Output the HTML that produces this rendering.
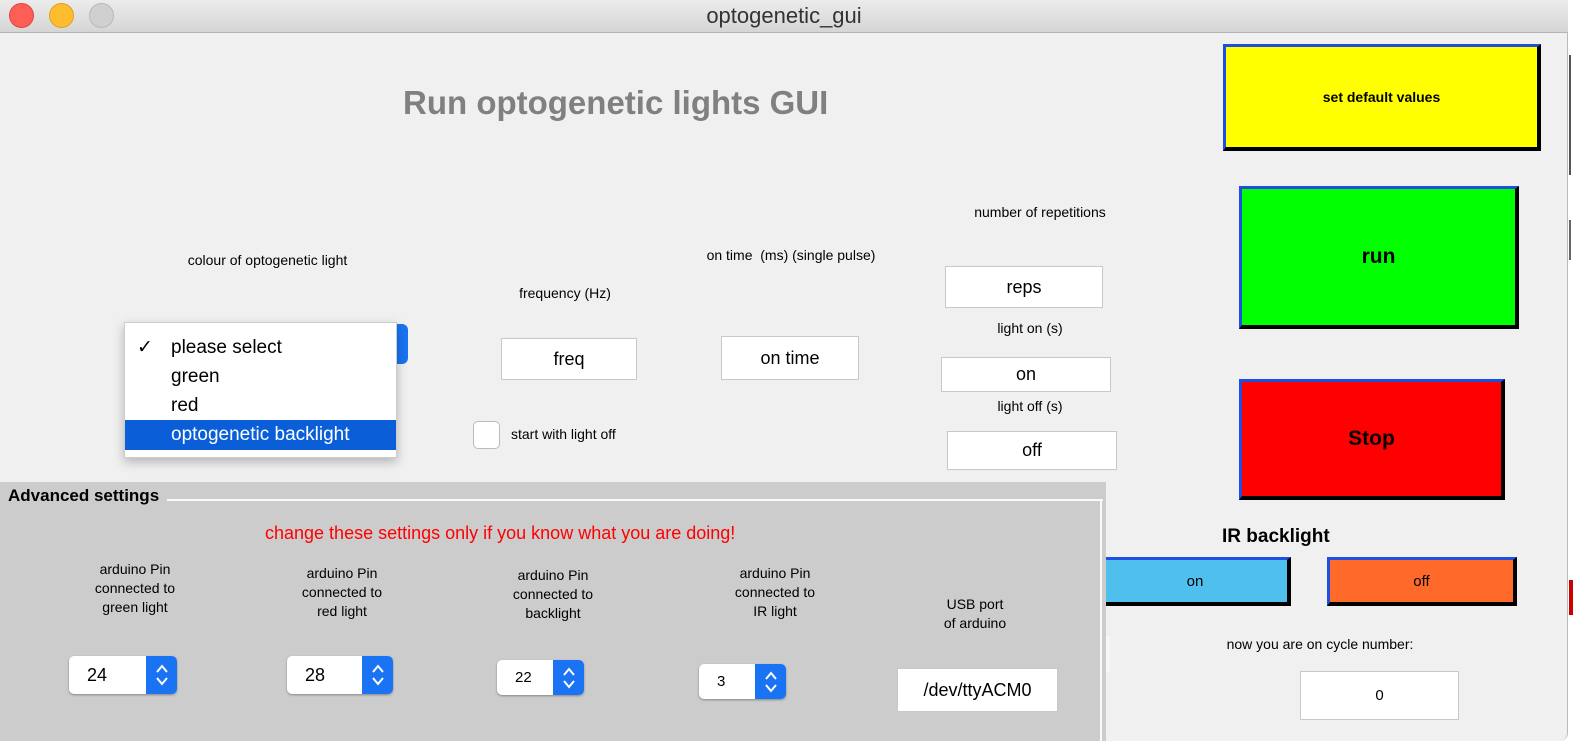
<!DOCTYPE html>
<html><head><meta charset="utf-8">
<style>
*{box-sizing:border-box}
body{margin:0;width:1582px;height:748px;background:#fff;font-family:"Liberation Sans",Arial,sans-serif;position:relative;overflow:hidden;color:#000}
.a{position:absolute}
.lbl{position:absolute;font-size:14px;text-align:center;line-height:19px}
.box{position:absolute;background:#fff;border:1px solid #c8c8c8;font-size:18px;display:flex;align-items:center;justify-content:center}
.btn{position:absolute;display:flex;align-items:center;justify-content:center;border-top:3px solid #1f4fe0;border-left:3px solid #1f4fe0;border-right:4px solid #000;border-bottom:4px solid #000}
.spin{position:absolute;background:#fff;border-radius:5px;box-shadow:0 1px 2px rgba(0,0,0,.35);font-size:18px;display:flex;align-items:center;padding-left:18px}
.spin .ar{position:absolute;right:0;top:0;bottom:0;width:31px;background:#1a73f2;border-radius:0 5px 5px 0;display:flex;align-items:center;justify-content:center}
</style></head><body>
<div class="a" style="left:0;top:0;width:1568px;height:741px;background:#f0f0f0;border-radius:0 0 8px 8px;border-right:1px solid #bbb"></div>
<div class="a" style="left:0;top:0;width:1568px;height:33px;background:linear-gradient(#ececec,#d5d5d5);border-bottom:1px solid #b5b5b5;text-align:center;font-size:22px;line-height:31px;color:#333">optogenetic_gui</div>
<div class="a" style="left:9px;top:3px;width:25px;height:25px;border-radius:50%;background:#fd5f57;border:1px solid #e0443e"></div>
<div class="a" style="left:49px;top:3px;width:25px;height:25px;border-radius:50%;background:#febc2e;border:1px solid #dea123"></div>
<div class="a" style="left:89px;top:3px;width:25px;height:25px;border-radius:50%;background:#d0d0d0;border:1px solid #b8b8b8"></div>
<div class="a" style="left:1569px;top:40px;width:13px;height:600px">
<div class="a" style="left:0;top:15px;width:2px;height:120px;background:#555"></div>
<div class="a" style="left:0;top:180px;width:2px;height:40px;background:#666"></div>
<div class="a" style="left:0;top:540px;width:4px;height:35px;background:#c00"></div></div>

<div class="a" style="left:403px;top:84px;font-size:33px;font-weight:bold;color:#808080">Run optogenetic lights GUI</div>

<div class="lbl" style="left:150px;top:251px;width:235px">colour of optogenetic light</div>
<div class="a" style="left:340px;top:324px;width:68px;height:40px;background:#1a73f2;border-radius:6px"></div>
<div class="a" style="left:124px;top:322px;width:273px;height:136px;background:#fff;border:1px solid #ccc;box-shadow:0 4px 10px rgba(0,0,0,.25);font-size:19px">
<div class="a" style="left:0;top:10px;width:271px;height:29px;line-height:29px;padding-left:46px">please select<span style="position:absolute;left:12px">✓</span></div>
<div class="a" style="left:0;top:39px;width:271px;height:29px;line-height:29px;padding-left:46px">green</div>
<div class="a" style="left:0;top:68px;width:271px;height:29px;line-height:29px;padding-left:46px">red</div>
<div class="a" style="left:0;top:97px;width:271px;height:30px;line-height:30px;padding-left:46px;background:#0a5fd8;color:#fff">optogenetic backlight</div>
</div>

<div class="lbl" style="left:490px;top:284px;width:150px">frequency (Hz)</div>
<div class="box" style="left:501px;top:338px;width:136px;height:42px">freq</div>
<div class="a" style="left:473px;top:421px;width:27px;height:28px;background:#fff;border:1px solid #bbb;border-radius:5px"></div>
<div class="lbl" style="left:511px;top:425px;text-align:left">start with light off</div>

<div class="lbl" style="left:680px;top:246px;width:222px">on time&nbsp; (ms) (single pulse)</div>
<div class="box" style="left:721px;top:336px;width:138px;height:44px">on time</div>

<div class="lbl" style="left:940px;top:203px;width:200px">number of repetitions</div>
<div class="box" style="left:945px;top:266px;width:158px;height:42px">reps</div>
<div class="lbl" style="left:960px;top:319px;width:140px">light on (s)</div>
<div class="box" style="left:941px;top:357px;width:170px;height:35px">on</div>
<div class="lbl" style="left:960px;top:397px;width:140px">light off (s)</div>
<div class="box" style="left:947px;top:431px;width:170px;height:39px">off</div>

<div class="btn" style="left:1223px;top:44px;width:318px;height:107px;background:#ffff00;font-size:14px;font-weight:bold">set default values</div>
<div class="btn" style="left:1239px;top:186px;width:280px;height:143px;background:#00ff00;font-size:21px;font-weight:bold">run</div>
<div class="btn" style="left:1239px;top:379px;width:266px;height:121px;background:#ff0000;font-size:21px;font-weight:bold">Stop</div>

<div class="a" style="left:1222px;top:526px;font-size:19px;font-weight:bold">IR backlight</div>
<div class="btn" style="left:1100px;top:557px;width:191px;height:49px;background:#4fbfee;font-size:15px">on</div>
<div class="btn" style="left:1327px;top:557px;width:190px;height:49px;background:#ff6a2a;font-size:15px">off</div>
<div class="a" style="left:1100px;top:636px;width:10px;height:36px;background:#f7f7f7"></div>
<div class="lbl" style="left:1200px;top:635px;width:240px">now you are on cycle number:</div>
<div class="box" style="left:1300px;top:671px;width:159px;height:49px;font-size:15px">0</div>

<div class="a" style="left:0;top:482px;width:1106px;height:259px;background:#cccccc">
<div class="a" style="left:0;top:17px;width:1103px;height:2px;background:#fafafa"></div>
<div class="a" style="left:1100px;top:17px;width:2px;height:242px;background:#fafafa"></div>
<div class="a" style="left:0;top:2px;padding:0 8px;background:#cccccc;font-size:17px;font-weight:bold;line-height:24px">Advanced settings</div>
<div class="a" style="left:265px;top:41px;font-size:18px;color:#ff0000">change these settings only if you know what you are doing!</div>
</div>
<div class="lbl" style="left:70px;top:560px;width:130px">arduino Pin<br>connected to<br>green light</div>
<div class="lbl" style="left:277px;top:564px;width:130px">arduino Pin<br>connected to<br>red light</div>
<div class="lbl" style="left:488px;top:566px;width:130px">arduino Pin<br>connected to<br>backlight</div>
<div class="lbl" style="left:710px;top:564px;width:130px">arduino Pin<br>connected to<br>IR light</div>
<div class="lbl" style="left:920px;top:595px;width:110px">USB port<br>of arduino</div>

<div class="spin" style="left:69px;top:656px;width:108px;height:38px">24<div class="ar"><svg width="14" height="26"><polyline points="2,10 7,4 12,10" fill="none" stroke="#fff" stroke-width="2"/><polyline points="2,16 7,22 12,16" fill="none" stroke="#fff" stroke-width="2"/></svg></div></div>
<div class="spin" style="left:287px;top:656px;width:106px;height:38px">28<div class="ar"><svg width="14" height="26"><polyline points="2,10 7,4 12,10" fill="none" stroke="#fff" stroke-width="2"/><polyline points="2,16 7,22 12,16" fill="none" stroke="#fff" stroke-width="2"/></svg></div></div>
<div class="spin" style="left:497px;top:660px;width:87px;height:35px;font-size:15px">22<div class="ar" style="width:31px"><svg width="14" height="26"><polyline points="2,10 7,4 12,10" fill="none" stroke="#fff" stroke-width="2"/><polyline points="2,16 7,22 12,16" fill="none" stroke="#fff" stroke-width="2"/></svg></div></div>
<div class="spin" style="left:699px;top:664px;width:87px;height:35px;font-size:15px">3<div class="ar"><svg width="14" height="26"><polyline points="2,10 7,4 12,10" fill="none" stroke="#fff" stroke-width="2"/><polyline points="2,16 7,22 12,16" fill="none" stroke="#fff" stroke-width="2"/></svg></div></div>
<div class="box" style="left:897px;top:668px;width:161px;height:44px">/dev/ttyACM0</div>
</body></html>
